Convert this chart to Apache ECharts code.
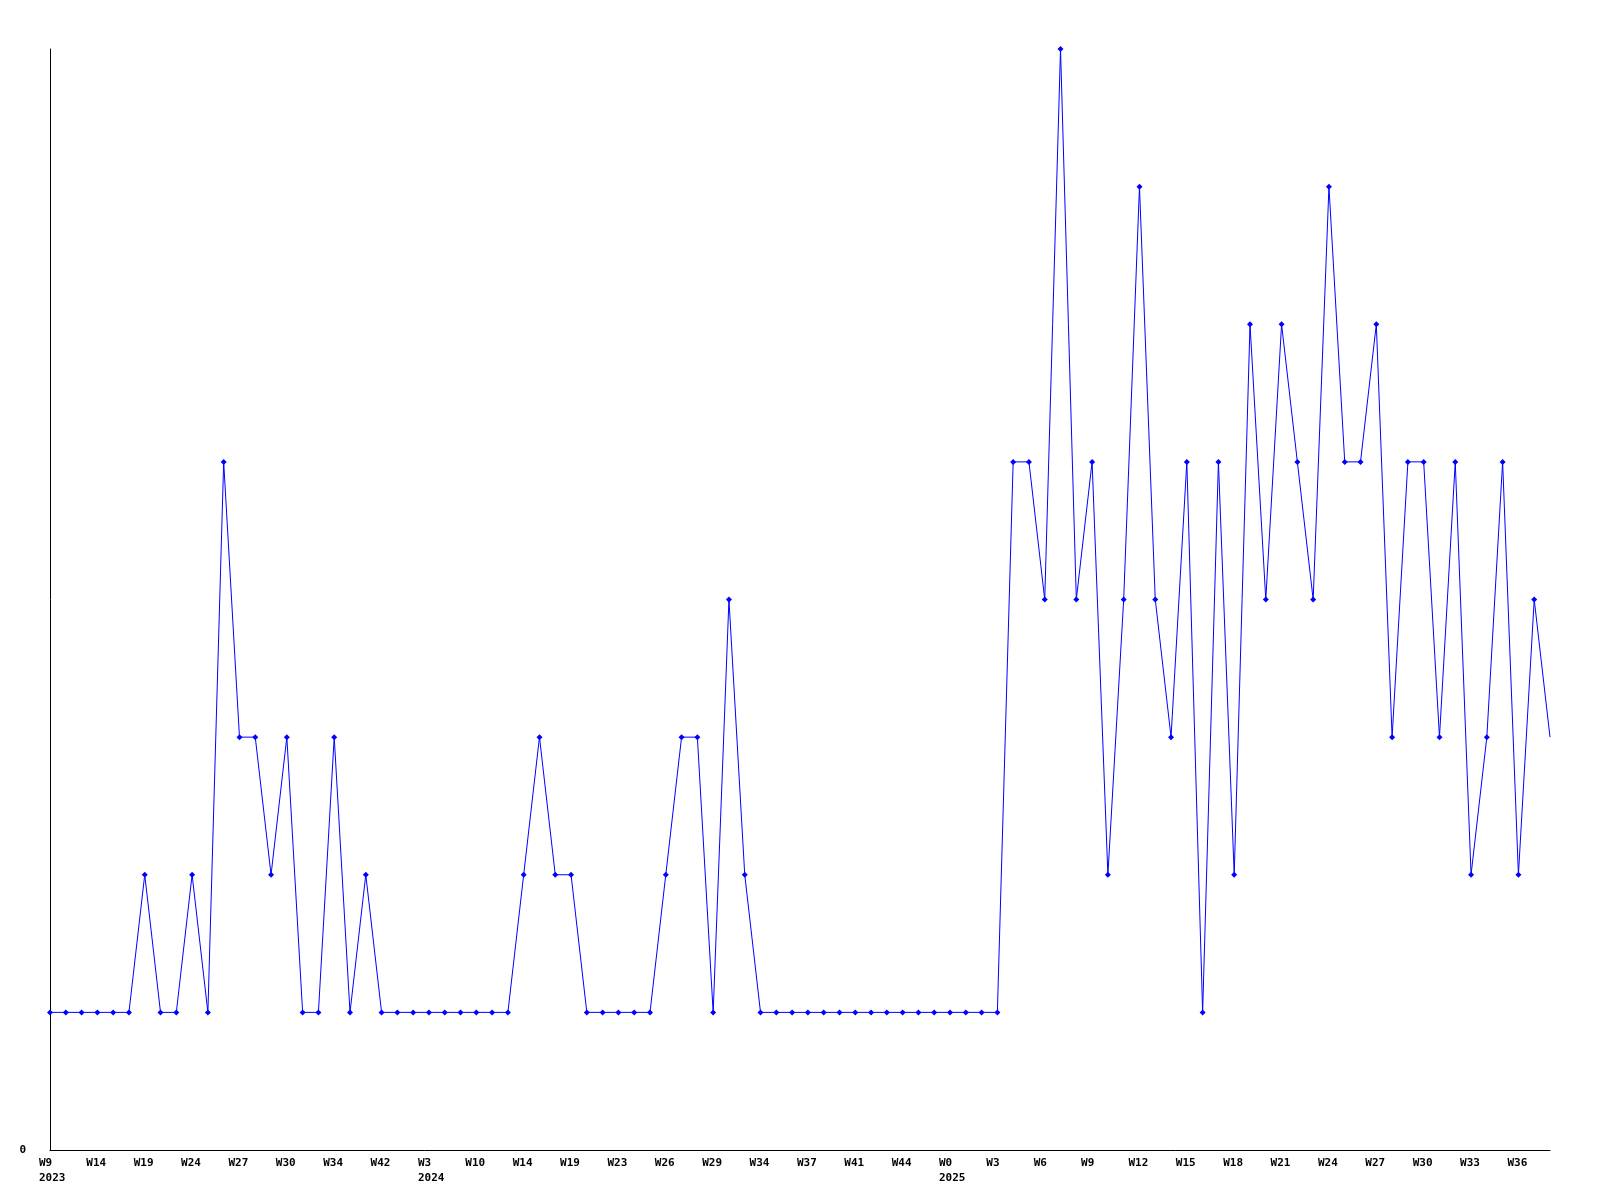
<!DOCTYPE html>
<html>
<head>
<meta charset="utf-8">
<script src="https://cdn.jsdelivr.net/npm/echarts@6/dist/echarts.min.js"></script>
<style>
  html, body { margin: 0; padding: 0; background: #fff; }
  #chart { width: 1600px; height: 1200px; }
</style>
</head>
<body>
<div id="chart"></div>
<script>
// week labels per point (only every 3rd one is shown)
var weeks2023 = ['W9','W11','W12','W14','W16','W17','W19','W21','W22','W24','W25','W26',
                 'W27','W28','W29','W30','W32','W33','W34','W37','W40','W42','W45','W49'];
var weeks2024 = ['W3','W5','W8','W10','W11','W13','W14','W16','W17','W19','W20','W22',
                 'W23','W24','W25','W26','W27','W28','W29','W31','W32','W34','W35','W36',
                 'W37','W39','W40','W41','W42','W43','W44','W46','W49'];
var weeks2025 = ['W0','W1','W2','W3','W4','W5','W6','W7','W8','W9','W10','W11','W12',
                 'W13','W14','W15','W16','W17','W18','W19','W20','W21','W22','W23','W24',
                 'W25','W26','W27','W28','W29','W30','W31','W32','W33','W34','W35','W36',
                 'W37','W38'];

var values2023 = [1,1,1,1,1,1,2,1,1,2,1,5,3,3,2,3,1,1,3,1,2,1,1,1];
var values2024 = [1,1,1,1,1,1,2,3,2,2,1,1,1,1,1,2,3,3,1,4,2,1,1,1,1,1,1,1,1,1,1,1,1];
var values2025 = [1,1,1,1,5,5,4,8,4,5,2,4,7,4,3,5,1,5,2,6,4,6,5,4,7,5,5,6,3,5,5,3,5,2,3,5,2,4,3];

var categories = [];
var years = [];
weeks2023.forEach(function(w){ categories.push(w); years.push('2023'); });
weeks2024.forEach(function(w){ categories.push(w); years.push('2024'); });
weeks2025.forEach(function(w){ categories.push(w); years.push('2025'); });

var values = values2023.concat(values2024, values2025);
var seriesData = values.map(function(v, i){
  if (i === values.length - 1) {
    return { value: v, symbol: 'none' };
  }
  return v;
});

var myChart = echarts.init(document.getElementById('chart'));
myChart.setOption({
  animation: false,
  backgroundColor: '#ffffff',
  grid: {
    left: 50,
    right: 50,
    top: 49,
    bottom: 50
  },
  xAxis: {
    type: 'category',
    boundaryGap: false,
    data: categories,
    axisLine: { lineStyle: { color: '#000', width: 1 } },
    axisTick: { show: false },
    axisLabel: {
      interval: 2,
      margin: 6,
      align: 'left',
      padding: [0, 0, 0, -11],
      lineHeight: 15,
      fontFamily: 'DejaVu Sans Mono',
      fontWeight: 'bold',
      fontSize: 11,
      color: '#000',
      formatter: function(val, idx){
        if (idx === 0 || years[idx - 3] !== years[idx]) {
          return val + '\n' + years[idx];
        }
        return val;
      }
    },
    splitLine: { show: false }
  },
  yAxis: {
    type: 'value',
    min: 0,
    max: 8,
    interval: 1,
    axisLine: { show: true, lineStyle: { color: '#000', width: 1 } },
    axisTick: { show: false },
    splitLine: { show: false },
    axisLabel: {
      margin: 24,
      fontFamily: 'DejaVu Sans Mono',
      fontWeight: 'bold',
      fontSize: 11,
      color: '#000',
      formatter: function(v){ return v === 0 ? '0' : ''; }
    }
  },
  series: [
    {
      type: 'line',
      data: seriesData,
      symbol: 'diamond',
      symbolSize: 6,
      showAllSymbol: true,
      lineStyle: { color: '#0000ff', width: 1 },
      itemStyle: { color: '#0000ff' }
    }
  ]
});
</script>
</body>
</html>
